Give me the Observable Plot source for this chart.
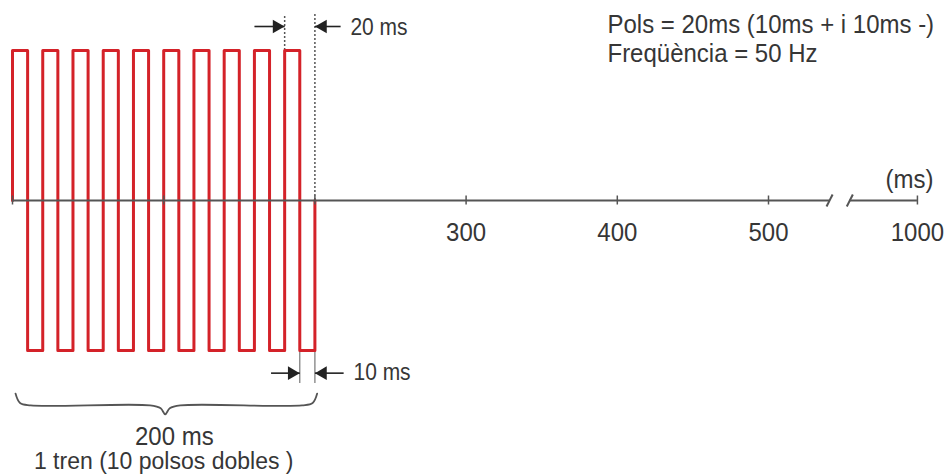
<!DOCTYPE html>
<html><head><meta charset="utf-8">
<script src="https://cdn.jsdelivr.net/npm/d3@7"></script>
<script src="https://cdn.jsdelivr.net/npm/@observablehq/plot@0.6"></script>
<style>body{margin:0;background:#fff}</style>
</head><body><div id="chart"></div>
<script>
// ---- data ----
const pulseStarts = [0, 20, 40, 60, 80, 100, 120, 140, 160, 180]; // ms, start of each biphasic pulse
const positivePhase = 10;   // ms
const negativePhase = 10;   // ms
const amplitude = 1;
const trainEnd = 200;       // ms
const axisTicks = [0, 100, 200, 300, 400, 500, 1000];
const tickLabels = [300, 400, 500, 1000];
const axisBreak = [705, 773]; // ms positions of the break marks
const breakFrom = 500;        // beyond this the axis is compressed
const breakFactor = 0.197;    // compression after the break
const infoLines = ["Pols = 20ms (10ms + i 10ms -)", "Freqüència = 50 Hz"];
const unitLabel = "(ms)";
const periodLabel = "20 ms";
const phaseLabel = "10 ms";
const trainLabels = ["200 ms", "1 tren (10 polsos dobles )"];

// broken-axis position
const pos = t => t <= breakFrom ? t : breakFrom + (t - breakFrom) * breakFactor;

// ---- derived waveform ----
const wave = [{t: 0, v: 0}];
for (const s of pulseStarts) {
  wave.push({t: s, v: amplitude}, {t: s + positivePhase, v: amplitude},
            {t: s + positivePhase, v: -amplitude}, {t: s + positivePhase + negativePhase, v: -amplitude});
}
wave.push({t: trainEnd, v: 0});

const lastStart = pulseStarts[pulseStarts.length - 1];
const lastMid = lastStart + positivePhase;

const font = "'Liberation Sans', Arial, Helvetica, sans-serif";
const red = "#d42229";
const grey = "#555";
const ink = "#222";
const textInk = "#363636";

// brace under the train (ms, level)
const braceL = 2, braceR = 201.5, braceC = 101;
const brace = [
  [braceL, -1.287], [braceL + 3, -1.35], [braceL + 10, -1.366], [braceC - 10, -1.366],
  [braceC - 3, -1.385], [braceC, -1.425], [braceC + 3, -1.385], [braceC + 10, -1.366],
  [braceR - 10, -1.366], [braceR - 3, -1.35], [braceR, -1.287]
].map(([t, v]) => ({t, v}));

const arrows = [
  {x1: 160, x2: lastStart, y: 1.16, dir: 1},
  {x1: 217, x2: trainEnd, y: 1.16, dir: -1},
  {x1: 171, x2: lastMid, y: -1.151, dir: 1},
  {x1: 219, x2: trainEnd, y: -1.151, dir: -1}
];

const chart = Plot.plot({
  width: 944,
  height: 474,
  margin: 0,
  x: {domain: [0, 500], range: [12, 768], axis: null},
  y: {domain: [-1, 1], range: [350, 50], axis: null},
  style: {fontFamily: font, background: "#fff"},
  marks: [
    // dotted guides for the 20 ms period
    Plot.ruleX([lastStart], {y1: amplitude, y2: 1.24, stroke: grey, strokeWidth: 1.5, strokeDasharray: "2,2"}),
    Plot.ruleX([trainEnd], {y1: 0, y2: 1.24, stroke: grey, strokeWidth: 1.5, strokeDasharray: "2,2"}),
    // solid guides for the 10 ms phase
    Plot.ruleX([lastMid, trainEnd], {y1: -amplitude, y2: -1.22, stroke: "#777", strokeWidth: 1.2}),
    // waveform
    Plot.line(wave, {x: "t", y: "v", stroke: red, strokeWidth: 3, strokeLinejoin: "round"}),
    // axis
    Plot.ruleY([0], {x1: 0, x2: pos(axisBreak[0]), stroke: grey, strokeWidth: 2}),
    Plot.ruleY([0], {x1: pos(axisBreak[1]), x2: pos(1000), stroke: grey, strokeWidth: 2}),
    Plot.link(axisBreak, {x1: d => pos(d) - 2, x2: d => pos(d) + 2, y1: -0.04, y2: 0.04, stroke: grey, strokeWidth: 2}),
    Plot.ruleX(axisTicks, {x: pos, y1: -0.03, y2: 0.03, stroke: grey, strokeWidth: 1.5}),
    Plot.text(tickLabels, {x: pos, y: -0.213, text: d => String(d), fontSize: 24, fill: textInk}),
    Plot.text([unitLabel], {x: pos(1000), y: 0.137, dx: 16, text: d => d, textAnchor: "end", fontSize: 24, fill: textInk}),
    // arrows
    Plot.link(arrows, {x1: "x1", x2: "x2", y1: "y", y2: "y", stroke: ink, strokeWidth: 1.6}),
    Plot.dot(arrows.filter(a => a.dir > 0), {x: "x2", y: "y", symbol: "triangle2", r: 6.5, fill: ink, stroke: "none", rotate: 90, dx: -7.9}),
    Plot.dot(arrows.filter(a => a.dir < 0), {x: "x2", y: "y", symbol: "triangle2", r: 6.5, fill: ink, stroke: "none", rotate: -90, dx: 7.9}),
    Plot.text([periodLabel], {x: 223.5, y: 1.15, text: d => d, textAnchor: "start", fontSize: 21, fill: textInk}),
    Plot.text([phaseLabel], {x: 225.5, y: -1.15, text: d => d, textAnchor: "start", fontSize: 21, fill: textInk}),
    // brace and train labels
    Plot.line(brace, {x: "t", y: "v", stroke: grey, strokeWidth: 1.8, curve: "catmull-rom"}),
    Plot.text([trainLabels[0]], {x: 107, y: -1.575, text: d => d, fontSize: 24, fill: textInk}),
    Plot.text([trainLabels[1]], {x: 100, y: -1.74, text: d => d, fontSize: 23, fill: textInk}),
    // info text
    Plot.text(infoLines, {x: 393.5, y: (d, i) => [1.17, 0.983][i], text: d => d, textAnchor: "start", fontSize: 24, fill: textInk})
  ]
});
// the reference lettering is slightly tall: stretch glyphs vertically about their anchor
d3.select(chart).selectAll("text").each(function() {
  if (this.textContent === trainLabels[1]) return;
  const t = this.getAttribute("transform") || "";
  this.setAttribute("transform", t + " scale(1,1.1)");
});
document.getElementById("chart").appendChild(chart);
</script>
</body></html>
